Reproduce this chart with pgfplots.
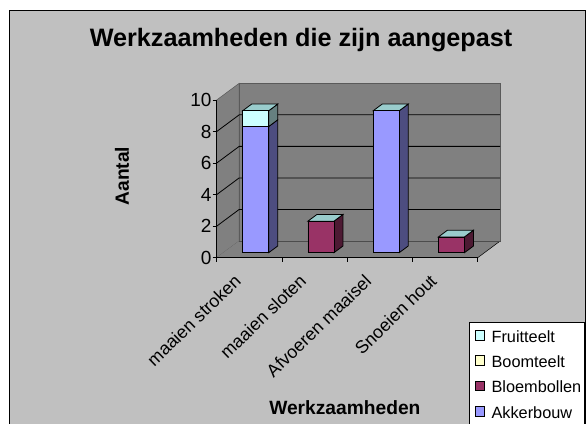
\documentclass[border=0pt]{standalone}
\usepackage{fontspec}
\setmainfont{Liberation Sans}
\usepackage{pgfplots}
\pgfplotsset{compat=1.18}
\definecolor{bg}{HTML}{C0C0C0}
\definecolor{wall}{HTML}{808080}
\definecolor{akker}{HTML}{9999FF}
\definecolor{akkerS}{HTML}{4D4D80}
\definecolor{bloem}{HTML}{993366}
\definecolor{bloemS}{HTML}{4D1A33}
\definecolor{boom}{HTML}{FFFFCC}
\definecolor{fruit}{HTML}{CCFFFF}
\definecolor{fruitS}{HTML}{668080}
\definecolor{topc}{HTML}{99CCCC}
\pgfplotsset{
  common/.style={
    scale only axis, width=261pt, height=157.7pt,
    xmin=0, xmax=4, ymin=0, ymax=10,
    clip=false,
  },
}
\begin{document}
\begin{tikzpicture}
\path[use as bounding box] (0pt,0pt) rectangle (586pt,423pt);
\fill[white] (0pt,0pt) rectangle (586pt,423pt);
\fill[bg,draw=black,line width=0.8pt] (9pt,-5pt) rectangle (585pt,413pt);
% walls, grid, axis lines and the bars' depth faces
\begin{axis}[common,
  at={(216.7pt,165.3pt)}, anchor=south west,
  axis on top,
  axis line style={black,line width=0.8pt},
  axis x line*=bottom, axis y line*=left,
  x axis line style={-}, y axis line style={-},
  xtick={0.5,1.5,2.5,3.5},
  xticklabels={maaien stroken,maaien sloten,Afvoeren maaisel,Snoeien hout},
  minor xtick={0,1,2,3,4},
  ytick={0,2,4,6,8,10},
  tick align=outside,
  major x tick style={draw=none},
  major tick length=4pt, minor tick length=4pt,
  tick style={black,line width=0.6pt},
  x tick label style={font=\fontsize{17.8}{20}\selectfont, rotate=44, anchor=north east, inner sep=0pt, xshift=-19.6pt, yshift=3.2pt},
  y tick label style={font=\fontsize{19}{21}\selectfont, inner sep=1pt},
  /pgf/number format/assume math mode=true,
  title={Werkzaamheden die zijn aangepast},
  title style={font=\bfseries\fontsize{25.2}{28}\selectfont, at={(0.323,1.342)}, anchor=center, yshift=0pt},
  xlabel={Werkzaamheden},
  xlabel style={font=\bfseries\fontsize{19.2}{22}\selectfont, at={(0.491,-0.953)}, anchor=center},
  ylabel={Aantal},
  ylabel style={font=\bfseries\fontsize{19.2}{22}\selectfont, at={(-0.363,0.518)}, anchor=center},
  every axis plot/.append style={line width=0.8pt},
]
% left wall, floor, back wall
\addplot[fill=wall,draw=wall!70!black,line width=0.5pt] coordinates {(0,0)(0,10)(0.345,11.06)(0.345,1.06)} -- cycle;
\addplot[fill=wall,draw=wall!70!black,line width=0.5pt] coordinates {(0.345,1.06)(0.345,11.06)(4.345,11.06)(4.345,1.06)} -- cycle;
\addplot[fill=wall,draw=none] coordinates {(0,0)(4,0)(4.345,1.06)(0.345,1.06)} -- cycle;
\addplot[black,line width=0.5pt] coordinates {(4,0)(4.345,1.06)};
% gridlines
\addplot[black] coordinates {(0,2)(0.345,3.06)(4.345,3.06)};
\addplot[black] coordinates {(0,4)(0.345,5.06)(4.345,5.06)};
\addplot[black] coordinates {(0,6)(0.345,7.06)(4.345,7.06)};
\addplot[black] coordinates {(0,8)(0.345,9.06)(4.345,9.06)};
\addplot[black!70,line width=0.6pt] coordinates {(0.345,1.06)(4.345,1.06)};
% side and top faces
% bar 1
\addplot[fill=akkerS,draw=black] coordinates {(0.797,0.317)(0.935,0.742)(0.935,8.742)(0.797,8.317)} -- cycle;
\addplot[fill=fruitS,draw=black] coordinates {(0.797,8.317)(0.935,8.742)(0.935,9.742)(0.797,9.317)} -- cycle;
\addplot[fill=topc,draw=black] coordinates {(0.398,9.317)(0.797,9.317)(0.935,9.742)(0.536,9.742)} -- cycle;
% bar 2
\addplot[fill=bloemS,draw=black] coordinates {(1.797,0.317)(1.935,0.742)(1.935,2.742)(1.797,2.317)} -- cycle;
\addplot[fill=topc,draw=black] coordinates {(1.398,2.317)(1.797,2.317)(1.935,2.742)(1.536,2.742)} -- cycle;
% bar 3
\addplot[fill=akkerS,draw=black] coordinates {(2.797,0.317)(2.935,0.742)(2.935,9.742)(2.797,9.317)} -- cycle;
\addplot[fill=topc,draw=black] coordinates {(2.398,9.317)(2.797,9.317)(2.935,9.742)(2.536,9.742)} -- cycle;
% bar 4
\addplot[fill=bloemS,draw=black] coordinates {(3.797,0.317)(3.935,0.742)(3.935,1.742)(3.797,1.317)} -- cycle;
\addplot[fill=topc,draw=black] coordinates {(3.398,1.317)(3.797,1.317)(3.935,1.742)(3.536,1.742)} -- cycle;
\end{axis}
% front faces: the stacked values, on an axis moved back by the depth offset
\begin{axis}[common,
  at={(223.1pt,170.3pt)}, anchor=south west,
  hide axis,
  ybar stacked, bar width=26pt,
  legend style={at={(0.943,-0.439)}, anchor=north west,
    fill=white, draw=black, line width=0.7pt,
    font=\fontsize{16.3}{18}\selectfont,
    /tikz/every node/.append style={inner sep=0pt, text height=11pt, text depth=2pt},
    row sep=11pt, inner xsep=3pt, inner ysep=8pt},
  legend cell align=left,
  reverse legend,
  legend image code/.code={\path[draw=none,fill=none] (0pt,0pt) -- (19pt,0pt); \draw[#1,line width=0.8pt] (3pt,-2.5pt) rectangle (12.3pt,7.3pt);},
]
\addplot[fill=akker,draw=black,line width=0.8pt] coordinates {(0.5,8)(1.5,0)(2.5,9)(3.5,0)};
\addplot[fill=bloem,draw=black,line width=0.8pt] coordinates {(0.5,0)(1.5,2)(2.5,0)(3.5,1)};
\addplot[fill=boom,draw=black,line width=0.8pt] coordinates {(0.5,0)(1.5,0)(2.5,0)(3.5,0)};
\addplot[fill=fruit,draw=black,line width=0.8pt] coordinates {(0.5,1)(1.5,0)(2.5,0)(3.5,0)};
\legend{Akkerbouw,Bloembollen,Boomteelt,Fruitteelt}
\end{axis}
\end{tikzpicture}
\end{document}
